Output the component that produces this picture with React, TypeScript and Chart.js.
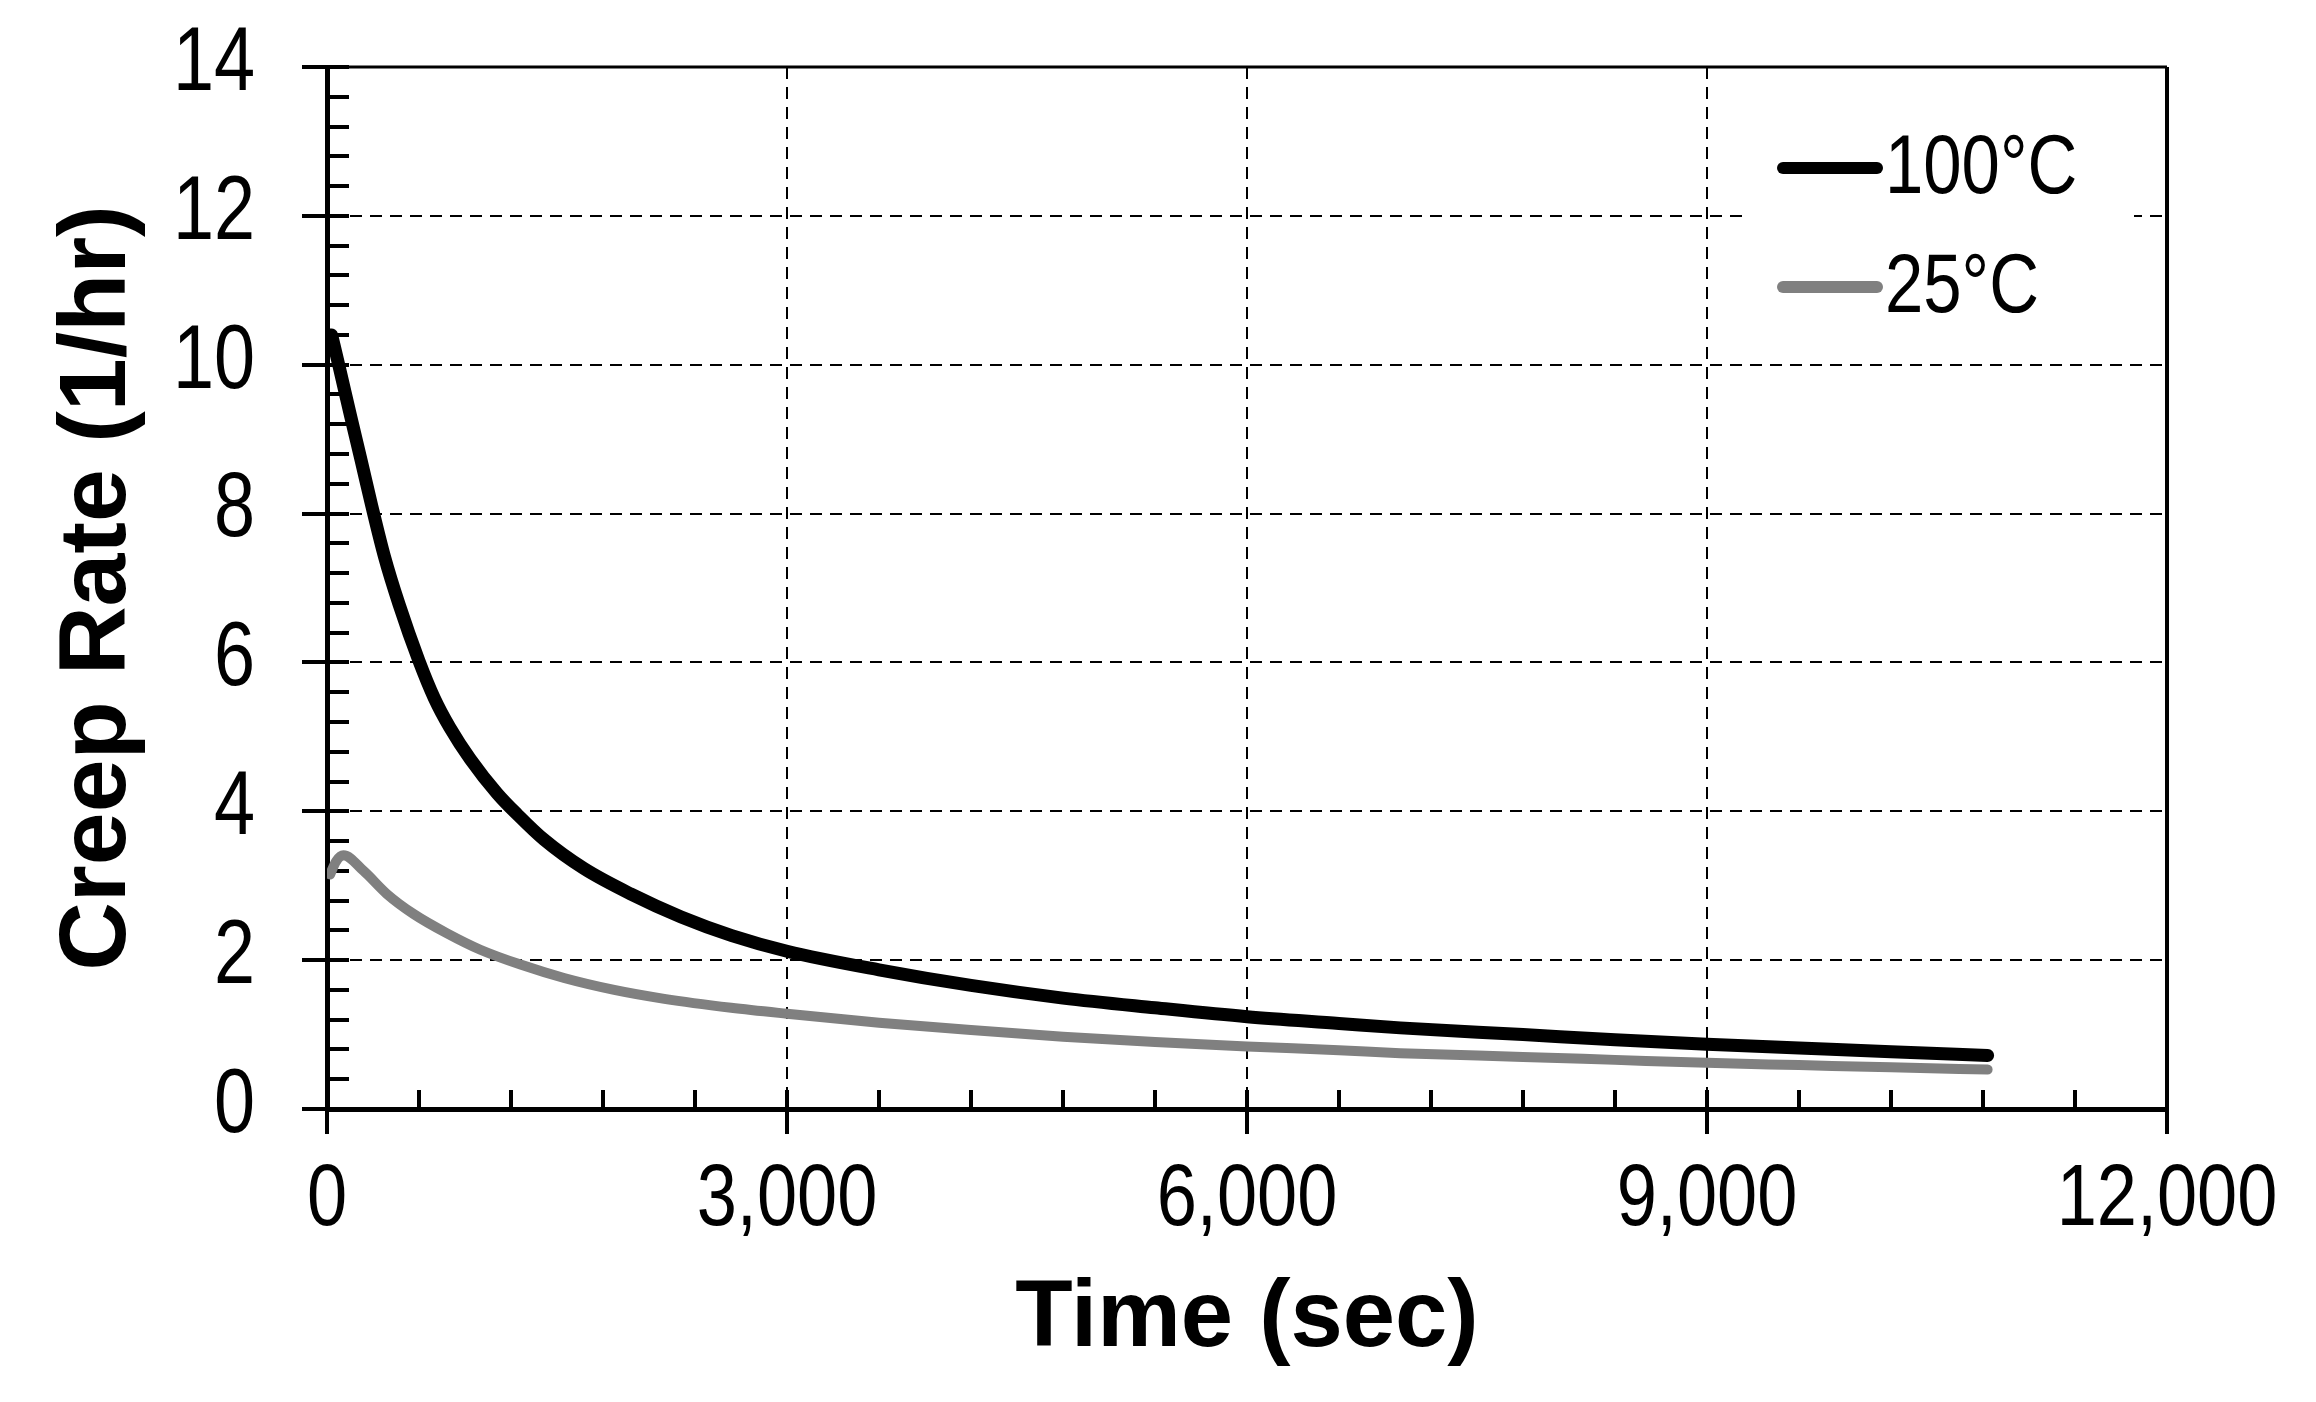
import { useEffect, useRef } from "react"
import Chart from "chart.js/auto"

// ── Data ────────────────────────────────────────────────────
const TIME_100 = [30, 82, 155, 222, 290, 375, 470, 600, 700, 800, 935, 1110, 1240, 1415, 1676, 1980, 2310, 2640, 3000, 3600, 4200, 4800, 5400, 6000, 6600, 7000, 7800, 8400, 9000, 9600, 10200, 10830]
const RATE_100 = [10.4, 9.95, 9.3, 8.72, 8.12, 7.42, 6.78, 6.02, 5.52, 5.13, 4.7, 4.24, 3.96, 3.62, 3.23, 2.89, 2.58, 2.33, 2.12, 1.87, 1.66, 1.49, 1.36, 1.24, 1.15, 1.09, 1.0, 0.93, 0.87, 0.82, 0.77, 0.72]

const TIME_25 = [20, 60, 107, 238, 390, 565, 783, 1000, 1262, 1546, 1873, 2200, 2636, 3000, 3600, 4200, 4800, 5400, 6000, 6600, 7000, 7800, 8400, 9000, 9600, 10200, 10830]
const RATE_25 = [3.15, 3.33, 3.41, 3.2, 2.89, 2.62, 2.36, 2.14, 1.94, 1.76, 1.6, 1.48, 1.36, 1.28, 1.16, 1.06, 0.97, 0.9, 0.84, 0.79, 0.75, 0.7, 0.66, 0.62, 0.59, 0.56, 0.53]

const SERIES_LABELS = ["100°C", "25°C"]
const X_MIN = 0, X_MAX = 12000, X_STEP = 3000, X_MINOR = 600
const Y_MIN = 0, Y_MAX = 14, Y_STEP = 2, Y_MINOR = 0.4

// ── Theme ───────────────────────────────────────────────────
const BLACK = "#000000"
const GRAY  = "#808080"
const SANS  = "'Liberation Sans', Arial, sans-serif"
const NARROW = 0.82   // Arial Narrow look: squeeze regular glyphs horizontally

const W = 2316, H = 1402

function narrowText(ctx: CanvasRenderingContext2D, text: string, x: number, y: number, align: CanvasTextAlign) {
  ctx.save()
  ctx.translate(x, y)
  ctx.scale(NARROW, 1)
  ctx.textAlign = align
  ctx.textBaseline = "middle"
  ctx.fillText(text, 0, 0)
  ctx.restore()
}

// ticks, frame, tick labels and legend, drawn on the chart's own scales
const framePlugin = {
  id: "frame",
  beforeDatasetsDraw(chart: any) {
    const { ctx, chartArea: a, scales } = chart
    const xs = scales.x, ys = scales.y
    ctx.save()
    ctx.strokeStyle = BLACK
    ctx.lineCap = "butt"
    ctx.lineWidth = 4
    ctx.beginPath()
    // y ticks: minor inside, major across
    for (let i = 0; i <= Math.round((Y_MAX - Y_MIN) / Y_MINOR); i++) {
      const py = Math.round(ys.getPixelForValue(Y_MIN + i * Y_MINOR))
      const major = i % Math.round(Y_STEP / Y_MINOR) === 0
      ctx.moveTo(a.left - (major ? 25 : 0), py)
      ctx.lineTo(a.left + 22, py)
    }
    // x ticks
    for (let i = 0; i <= Math.round((X_MAX - X_MIN) / X_MINOR); i++) {
      const px = Math.round(xs.getPixelForValue(X_MIN + i * X_MINOR))
      const major = i % Math.round(X_STEP / X_MINOR) === 0
      ctx.moveTo(px, a.bottom - 19)
      ctx.lineTo(px, a.bottom + (major ? 25 : 0))
    }
    ctx.stroke()
    // top and right frame
    ctx.lineWidth = 3
    ctx.beginPath()
    ctx.moveTo(a.left - 25, a.top)
    ctx.lineTo(a.right, a.top)
    ctx.stroke()
    ctx.lineWidth = 4
    ctx.beginPath()
    ctx.moveTo(a.right, a.top)
    ctx.lineTo(a.right, a.bottom + 25)
    ctx.stroke()

    // tick labels
    ctx.fillStyle = BLACK
    ctx.font = `90px ${SANS}`
    ys.ticks.forEach((t: any) => {
      narrowText(ctx, String(t.value), a.left - 72, ys.getPixelForValue(t.value) - 2, "right")
    })
    ctx.font = `88px ${SANS}`
    xs.ticks.forEach((t: any) => {
      narrowText(ctx, Number(t.value).toLocaleString("en-US"), xs.getPixelForValue(t.value), a.bottom + 92, "center")
    })
    ctx.restore()
  },
  afterDraw(chart: any) {
    const { ctx, chartArea: a } = chart
    const boxL = a.right - 418, boxT = a.top + 38
    ctx.save()
    ctx.fillStyle = "#ffffff"
    ctx.fillRect(boxL, boxT, 385, 240)
    chart.data.datasets.forEach((ds: any, i: number) => {
      const y = a.top + 101 + i * 119
      ctx.strokeStyle = ds.borderColor
      ctx.lineWidth = 12
      ctx.lineCap = "round"
      ctx.beginPath()
      ctx.moveTo(boxL + 34, y)
      ctx.lineTo(boxL + 128, y)
      ctx.stroke()
      ctx.fillStyle = BLACK
      ctx.font = `84px ${SANS}`
      narrowText(ctx, ds.label, boxL + 136, y + 2, "left")
    })
    ctx.restore()
  },
}

export default function App() {
  const ref = useRef<HTMLCanvasElement>(null)

  useEffect(() => {
    document.body.style.margin = "0"
    if (!ref.current) return
    const gridColor = (lo: number, hi: number) => (c: any) =>
      c.tick && (c.tick.value === lo || c.tick.value === hi) ? "rgba(0,0,0,0)" : BLACK

    const chart = new Chart(ref.current, {
      type: "line",
      data: {
        datasets: [
          {
            label: SERIES_LABELS[0],
            data: TIME_100.map((t, i) => ({ x: t, y: RATE_100[i] })),
            borderColor: BLACK,
            borderWidth: 13,
            borderCapStyle: "round",
            borderJoinStyle: "round",
            pointRadius: 0,
            cubicInterpolationMode: "monotone",
          },
          {
            label: SERIES_LABELS[1],
            data: TIME_25.map((t, i) => ({ x: t, y: RATE_25[i] })),
            borderColor: GRAY,
            borderWidth: 10,
            borderCapStyle: "round",
            borderJoinStyle: "round",
            pointRadius: 0,
            cubicInterpolationMode: "monotone",
          },
        ],
      },
      options: {
        animation: false,
        responsive: true,
        maintainAspectRatio: false,
        devicePixelRatio: 1,
        layout: { padding: { top: 67, right: 149, left: 0, bottom: 0 } },
        plugins: { legend: { display: false }, tooltip: { enabled: false } },
        scales: {
          x: {
            type: "linear",
            min: X_MIN,
            max: X_MAX,
            afterFit: (s: any) => {
              s.height = H - 1109
              s.paddingLeft = 0
              s.paddingRight = 0
            },
            ticks: { stepSize: X_STEP, autoSkip: false, maxRotation: 0, display: false },
            grid: { color: gridColor(X_MIN, X_MAX), lineWidth: 2, drawTicks: false },
            border: { color: BLACK, width: 5, dash: [12, 8] },
            title: {
              display: true,
              text: "Time (sec)",
              color: BLACK,
              font: { family: SANS, size: 94, weight: "bold" },
              padding: { top: 0, bottom: 26 },
            },
          },
          y: {
            min: Y_MIN,
            max: Y_MAX,
            afterFit: (s: any) => {
              s.width = 327
              s.paddingTop = 0
              s.paddingBottom = 0
            },
            ticks: { stepSize: Y_STEP, display: false },
            grid: { color: gridColor(Y_MIN, Y_MAX), lineWidth: 2, drawTicks: false },
            border: { color: BLACK, width: 5, dash: [12, 8] },
            title: {
              display: true,
              text: "Creep Rate (1/hr)",
              color: BLACK,
              font: { family: SANS, size: 95, weight: "bold" },
              padding: { top: 42, bottom: 0 },
            },
          },
        },
      },
      plugins: [framePlugin],
    })
    return () => chart.destroy()
  }, [])

  return (
    <div style={{ position: "relative", width: W, height: H, background: "#fff" }}>
      <canvas ref={ref} />
    </div>
  )
}
